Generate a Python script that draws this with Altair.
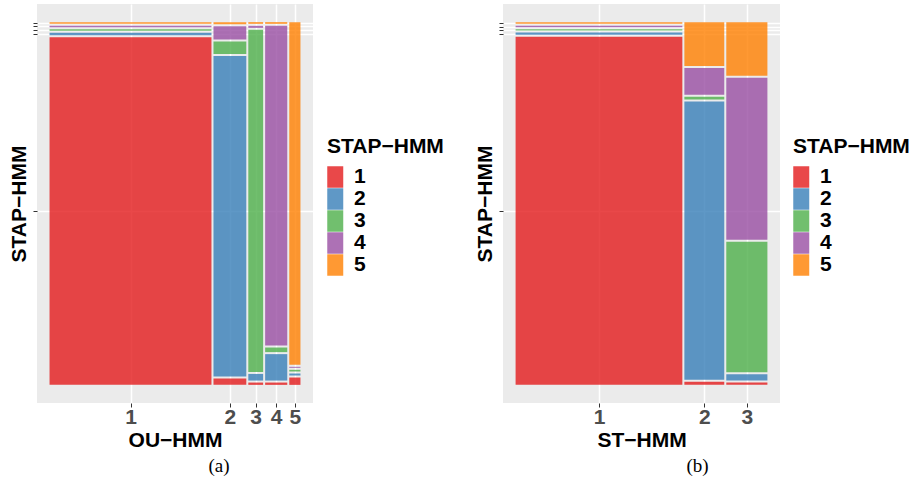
import altair as alt
import pandas as pd

# STAP-HMM states (fill) and Set1 colours
STATES = ["1", "2", "3", "4", "5"]
SET1 = ["#E41A1C", "#377EB8", "#4DAF4A", "#984EA3", "#FF7F00"]

# ---- panel (a): OU-HMM (x) vs STAP-HMM (fill) ----
ou_states = ["1", "2", "3", "4", "5"]
ou_widths = [66.6, 13.5, 6.1, 9.1, 4.6]          # share of each OU-HMM state (%)
# composition of STAP-HMM states 1..5 inside each OU-HMM state (%)
ou_in1 = [98.0, 0.68, 0.45, 0.37, 0.48]
ou_in2 = [1.8, 90.4, 3.5, 3.8, 0.57]
ou_in3 = [0.65, 1.87, 96.4, 0.57, 0.48]
ou_in4 = [0.65, 7.45, 1.3, 90.1, 0.48]
ou_in5 = [2.07, 0.57, 0.48, 0.28, 96.6]

# ---- panel (b): ST-HMM (x) vs STAP-HMM (fill) ----
st_states = ["1", "2", "3"]
st_widths = [67.3, 16.1, 16.6]
st_in1 = [98.0, 0.66, 0.35, 0.40, 0.48]
st_in2 = [0.85, 78.45, 0.76, 7.56, 12.38]
st_in3 = [0.65, 1.80, 36.8, 45.7, 15.1]

GX = 0.008   # gap between columns (share of unit square)
GY = 0.0055  # gap between stacked tiles

FONT = "Liberation Sans"


def mosaic_table(cols, widths, shares):
    tw = sum(widths)
    n = len(cols)
    usable_x = 1 - (n - 1) * GX
    rows, centers, bounds = [], [], []
    x = 0.0
    for c, w, sh in zip(cols, widths, shares):
        wx = w / tw * usable_x
        ts = sum(sh)
        usable_y = 1 - (len(sh) - 1) * GY
        y = 0.0
        for s, v in zip(STATES, sh):
            hy = v / ts * usable_y
            rows.append(dict(col=c, stap=s, x0=x, x1=x + wx, y0=y, y1=y + hy,
                             ymid=y + hy / 2))
            y += hy + GY
        centers.append(x + wx / 2)
        bounds.append(x + wx + GX / 2)
        x += wx + GX
    return pd.DataFrame(rows), centers, bounds


def panel(cols, widths, shares, xtitle, caption, dx, W):
    df, centers, bounds = mosaic_table(cols, widths, shares)
    expr = ""
    for i in range(len(cols) - 1):
        expr += f"datum.value < {bounds[i]:.5f} ? '{cols[i]}' : "
    expr += f"'{cols[-1]}'"
    ycent = list(df[df["col"] == cols[0]]["ymid"])
    sc = alt.Scale(domain=[-0.05, 1.05], nice=False, zero=False)
    return alt.Chart(df).mark_rect(opacity=0.8).encode(
        x=alt.X("x0:Q", scale=sc, axis=alt.Axis(
            values=centers, labelExpr=expr, title=xtitle,
            labelFont=FONT, labelFontSize=21, labelFontWeight="bold",
            labelColor="#4D4D4D", labelPadding=-1, tickColor="#333333",
            tickSize=4, domain=False, grid=True, gridColor="white",
            gridWidth=1.5, titleFont=FONT, titleFontSize=21,
            titleFontWeight="bold", titleColor="black", titlePadding=2)),
        x2="x1:Q",
        y=alt.Y("y0:Q", scale=sc, axis=alt.Axis(
            values=ycent, labels=False, title="STAP−HMM",
            tickColor="#333333", tickSize=4, domain=False, grid=True,
            gridColor="white", gridWidth=1.5, titleFont=FONT,
            titleFontSize=21, titleFontWeight="bold", titleColor="black",
            titlePadding=3)),
        y2="y1:Q",
        color=alt.Color("stap:N", scale=alt.Scale(domain=STATES, range=SET1),
                        legend=alt.Legend(
                            title="STAP−HMM", orient="none", legendX=290,
                            legendY=132, padding=0, rowPadding=0,
                            titleFont=FONT, titleFontSize=21,
                            titleFontWeight="bold", titleColor="black",
                            titlePadding=9, labelFont=FONT, labelFontSize=21,
                            labelFontWeight="bold", labelColor="black",
                            labelOffset=5, symbolType="M-1,-1H0.488V1H-1Z",
                            symbolSize=462, symbolStrokeWidth=0,
                            symbolOpacity=0.8)),
    ).properties(
        width=W, height=399,
        title=alt.TitleParams(caption, orient="bottom", font="Liberation Serif",
                              fontSize=19, fontWeight="normal", color="black",
                              anchor="middle", dx=dx, offset=7),
    )


a = panel(ou_states, ou_widths, [ou_in1, ou_in2, ou_in3, ou_in4, ou_in5],
          "OU−HMM", "(a)", 44, 276)
b = panel(st_states, st_widths, [st_in1, st_in2, st_in3],
          "ST−HMM", "(b)", 56, 277)

chart = alt.hconcat(a, b, spacing=30).resolve_scale(
    color="independent", x="independent", y="independent"
).configure_view(fill="#EBEBEB", stroke=None).properties(
    padding={"left": 8, "top": 4, "right": 0, "bottom": 0}
)

chart.save("out.html", embed_options={"renderer": "svg", "actions": False})
